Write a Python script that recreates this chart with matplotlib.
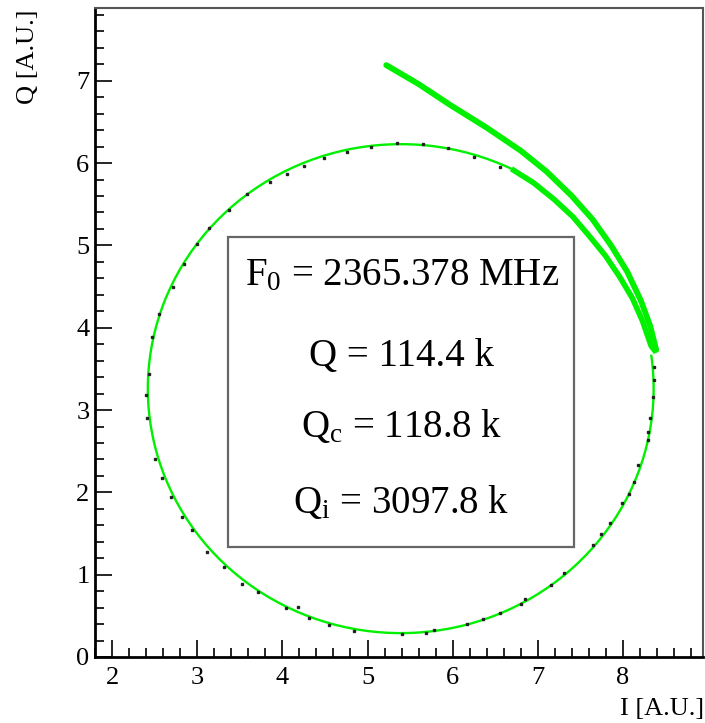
import matplotlib
matplotlib.use("Agg")
import matplotlib.pyplot as plt
from matplotlib.patches import Arc, Rectangle
from matplotlib.ticker import MultipleLocator

plt.rcParams['font.family'] = ['Liberation Serif', 'DejaVu Serif']
plt.rcParams['mathtext.fontset'] = 'custom'
plt.rcParams['mathtext.rm'] = 'Liberation Serif'
plt.rcParams['mathtext.it'] = 'Liberation Serif:italic'

GREEN = '#00f000'

# measured S21 points around the resonance (I, Q)
data_i = [6.55, 6.25, 5.95, 5.65, 5.35, 5.04, 4.76, 4.49, 4.25, 4.06, 3.86, 3.59,
          3.37, 3.14, 3.00, 2.84, 2.71, 2.55, 2.47, 2.43, 2.40, 2.41, 2.50, 2.59,
          2.69, 2.82, 2.94, 3.12, 3.31, 3.53, 3.71, 4.04, 4.18, 4.31, 4.55, 4.84,
          5.40, 5.69, 5.78, 6.17, 6.36, 6.55, 6.80, 6.85, 7.16, 7.31, 7.65, 7.74,
          7.85, 7.99, 8.07, 8.13, 8.18, 8.29, 8.29, 8.32, 8.35, 8.36, 8.37]
data_q = [5.95, 6.08, 6.18, 6.23, 6.24, 6.20, 6.14, 6.06, 5.97, 5.87, 5.77, 5.63,
          5.43, 5.21, 5.02, 4.78, 4.50, 4.17, 3.89, 3.44, 3.18, 2.90, 2.41, 2.17,
          1.94, 1.70, 1.54, 1.28, 1.09, 0.89, 0.79, 0.59, 0.61, 0.47, 0.39, 0.32,
          0.28, 0.29, 0.33, 0.40, 0.46, 0.54, 0.64, 0.70, 0.87, 1.02, 1.36, 1.49,
          1.63, 1.87, 1.98, 2.13, 2.33, 2.63, 2.73, 2.90, 3.16, 3.36, 3.52]

# off-resonance sweep: incoming tail down to the loop, then back along the loop
tail_i = [5.22, 5.60, 5.98, 6.40, 6.80, 7.10, 7.39, 7.64, 7.86, 8.05, 8.21, 8.32, 8.39]
tail_q = [7.19, 6.96, 6.70, 6.43, 6.15, 5.90, 5.61, 5.32, 5.00, 4.68, 4.33, 4.02, 3.73]
inner_i = [6.69, 6.95, 7.19, 7.41, 7.60, 7.79, 7.96, 8.11, 8.23, 8.33, 8.39]
inner_q = [5.93, 5.76, 5.56, 5.35, 5.12, 4.88, 4.62, 4.36, 4.08, 3.78, 3.70]

# circle fit result
fit_center = (5.39, 3.26)
fit_radius = 2.97
fit_span = (64, 8)  # degrees, counter-clockwise

labels = [r'F$_{\mathrm{0}}$ = 2365.378 MHz',
          r'Q = 114.4 k',
          r'Q$_{\mathrm{c}}$ = 118.8 k',
          r'Q$_{\mathrm{i}}$ = 3097.8 k']
label_y = [4.52, 3.54, 2.67, 1.75]

fig = plt.figure(figsize=(7.05, 7.23), dpi=100)
ax = fig.add_axes([0.1348, 0.0913, 0.8624, 0.8983])

ax.add_patch(Arc(fit_center, 2 * fit_radius, 2 * fit_radius, theta1=fit_span[0],
                 theta2=fit_span[1], color=GREEN, lw=1.7, zorder=2))
ax.plot(tail_i, tail_q, color=GREEN, lw=4.2, solid_capstyle='round',
        solid_joinstyle='round', zorder=3)
ax.plot(inner_i, inner_q, color=GREEN, lw=4.0, solid_capstyle='butt',
        solid_joinstyle='round', zorder=3)
ax.plot(data_i, data_q, ls='none', marker='s', ms=2.0, color='#222222', zorder=4)

# parameter box
ax.add_patch(Rectangle((3.365, 1.337), 4.06, 3.763, facecolor='white',
                       edgecolor='#666666', lw=1.6, zorder=5))
for txt, y in zip(labels, label_y):
    ax.text(5.40, y, txt, ha='center', va='baseline', fontsize=28, zorder=6)

ax.set_xlim(1.80, 8.94)
ax.set_ylim(0, 7.89)
ax.xaxis.set_major_locator(MultipleLocator(1))
ax.xaxis.set_minor_locator(MultipleLocator(0.2))
ax.yaxis.set_major_locator(MultipleLocator(1))
ax.yaxis.set_minor_locator(MultipleLocator(0.2))
ax.tick_params(which='both', direction='in', top=False, right=False,
               labelsize=19, width=1.2, color='black')
ax.tick_params(which='major', length=12.5)
ax.tick_params(which='minor', length=6.5)
ax.tick_params(axis='x', pad=7)
ax.tick_params(axis='y', pad=4)

for s in ('left', 'bottom'):
    ax.spines[s].set_linewidth(2.0)
for s in ('top', 'right'):
    ax.spines[s].set_linewidth(1.5)
    ax.spines[s].set_color('#555555')

fig.text(0.999, 0.019, 'I [A.U.]', ha='right', va='center', fontsize=19)
fig.text(0.040, 0.987, 'Q [A.U.]', ha='center', va='top', rotation=90, fontsize=19)

fig.savefig('out.png', dpi=100)
